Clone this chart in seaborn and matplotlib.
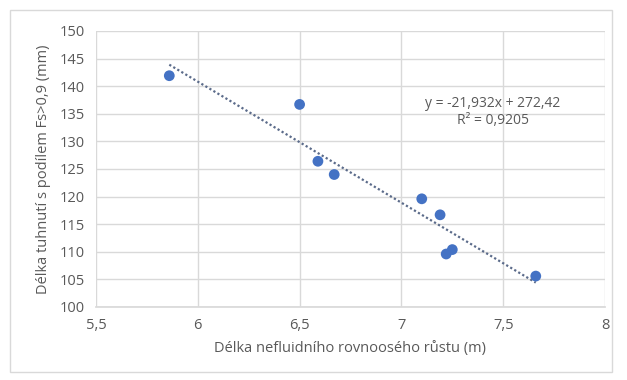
import matplotlib
matplotlib.use("Agg")
import matplotlib.pyplot as plt
import seaborn as sns
import numpy as np
import pandas as pd
from matplotlib.patches import Rectangle

x_vals = [5.86, 6.50, 6.59, 6.67, 7.10, 7.19, 7.22, 7.25, 7.66]
y_vals = [141.9, 136.7, 126.4, 124.0, 119.6, 116.7, 109.6, 110.4, 105.6]
slope = -21.932
intercept = 272.42
eq_text = "y = -21,932x + 272,42\nR² = 0,9205"
x_ticks = [5.5, 6, 6.5, 7, 7.5, 8]
x_tick_labels = ["5,5", "6", "6,5", "7", "7,5", "8"]
y_ticks = [100, 105, 110, 115, 120, 125, 130, 135, 140, 145, 150]
x_label = "Délka nefluidního rovnoosého růstu (m)"
y_label = "Délka tuhnutí s podílem Fs>0,9 (mm)"

sns.set_theme(style="white")
plt.rcParams['font.family'] = ['Open Sans', 'DejaVu Sans']

txt = "#595959"
fig = plt.figure(figsize=(6.27, 3.80), dpi=100)
ax = fig.add_axes([96/627, 1 - 307/380, (605-96)/627, (307-31)/380])

df = pd.DataFrame({"x": x_vals, "y": y_vals})
sns.scatterplot(data=df, x="x", y="y", ax=ax, color="#4472C4", s=60,
                edgecolor="none", zorder=3)

xt = np.array([min(x_vals), max(x_vals)])
trend = pd.DataFrame({"x": xt, "y": slope * xt + intercept})
sns.lineplot(data=trend, x="x", y="y", ax=ax, color="#5b6b8a",
             linestyle=(0, (1, 1.1)), linewidth=1.6, zorder=2)

ax.set_xlim(5.5, 8)
ax.set_ylim(100, 150)
ax.set_xticks(x_ticks)
ax.set_xticklabels(x_tick_labels)
ax.set_yticks(y_ticks)
ax.grid(True, color="#d9d9d9", linewidth=1)
ax.set_axisbelow(True)
for s in ["top", "right", "left"]:
    ax.spines[s].set_visible(False)
ax.spines["bottom"].set_color("#d9d9d9")
ax.tick_params(axis="both", length=0, colors=txt, labelsize=10.5, pad=8)
ax.set_xlabel(x_label, color=txt, fontsize=10.5, labelpad=6)
ax.set_ylabel(y_label, color=txt, fontsize=10.5, labelpad=6)

ax.text(493/627, 1 - 112/380, eq_text, transform=fig.transFigure,
        ha="center", va="center", fontsize=10, color=txt, linespacing=1.15)

fig.patches.append(Rectangle((10/627, 8/380), 602/627, 362/380,
                             transform=fig.transFigure, fill=False,
                             edgecolor="#d9d9d9", linewidth=1))

fig.savefig("out.png", dpi=100)
